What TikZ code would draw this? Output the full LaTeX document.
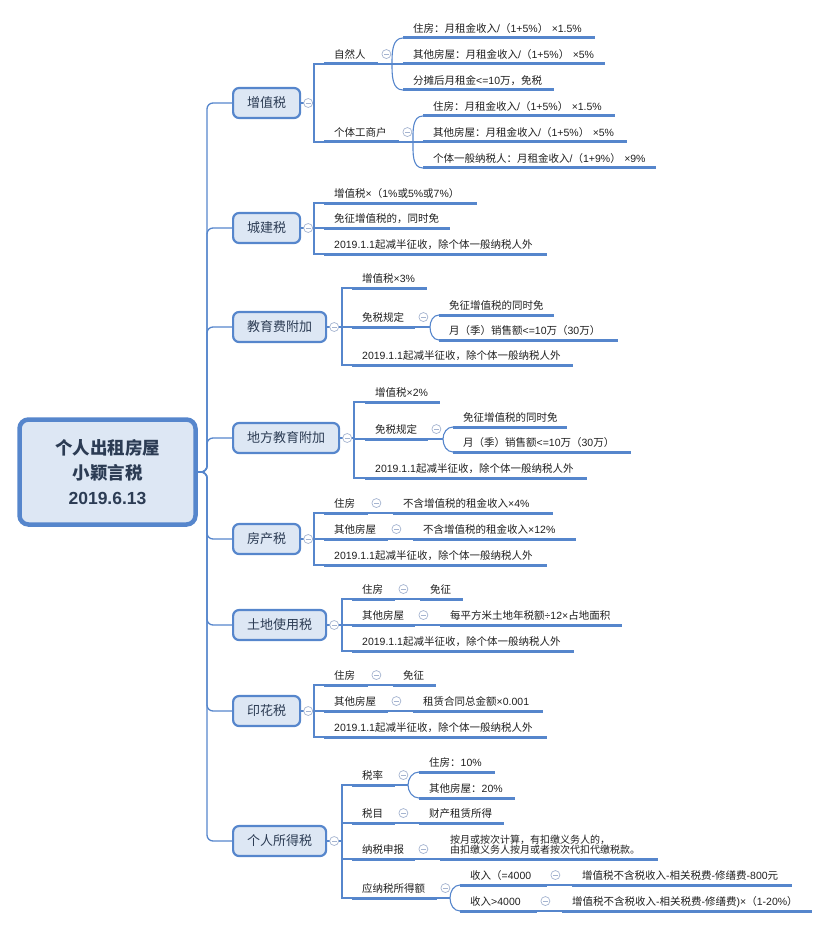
\documentclass[tikz,border=0pt]{standalone}
\usepackage{fontspec}
\setmainfont{Liberation Sans}
\newfontfamily\cjkfont{Noto Sans CJK SC}
\newfontfamily\latinfont{Liberation Sans}

% switch to the CJK font for CJK characters, back to Latin for the rest
\XeTeXinterchartokenstate=1
\newXeTeXintercharclass\cjkclass
\newcount\cjkcode
\def\setcjkrange#1#2{\cjkcode=#1 \loop\XeTeXcharclass\cjkcode=\cjkclass
  \ifnum\cjkcode<#2 \advance\cjkcode by 1 \repeat}
\setcjkrange{"3000}{"303F}
\setcjkrange{"4E00}{"9FFF}
\setcjkrange{"FF00}{"FFEF}
\XeTeXinterchartoks 0 \cjkclass = {\cjkfont}
\XeTeXinterchartoks 4095 \cjkclass = {\cjkfont}
\XeTeXinterchartoks \cjkclass 0 = {\latinfont}
\XeTeXinterchartoks 4095 0 = {\latinfont}
\exhyphenpenalty=10000
\hyphenpenalty=10000

\definecolor{linkblue}{RGB}{86,134,204}
\definecolor{boxfill}{RGB}{221,231,244}
\definecolor{boxtext}{RGB}{44,60,84}
\definecolor{togline}{RGB}{165,180,208}

\tikzset{
  rootbox/.style={draw=linkblue, fill=boxfill, line width=4.5pt, rounded corners=9pt,
    minimum width=176pt, minimum height=105pt, align=center, text=boxtext,
    font=\bfseries\fontsize{17.5}{25}\selectfont},
  topic/.style={draw=linkblue, fill=boxfill, line width=2.2pt, rounded corners=6pt,
    minimum height=30pt, inner xsep=14pt, anchor=west, text=boxtext,
    font=\fontsize{13}{15}\selectfont},
  uline/.style={draw=linkblue, line width=3pt},
  leaf/.style={anchor=south west, inner xsep=10pt, inner ysep=3pt, text height=8pt,
    text depth=2.5pt, align=left, text=black!88, font=\fontsize{10.5}{13}\selectfont,
    append after command={(\tikzlastnode.south west) edge[uline] (\tikzlastnode.south east)}},
  link/.style={draw=linkblue, line width=1.1pt},
  trunk/.style={draw=linkblue, line width=1.3pt, rounded corners=6pt},
  tog/.style={circle, draw=togline, fill=white, line width=0.7pt, minimum size=9pt, inner sep=0pt,
    path picture={\draw[togline, line width=0.7pt]
      ([xshift=-2.3pt]path picture bounding box.center) -- ([xshift=2.3pt]path picture bounding box.center);}}
}

\begin{document}
\begin{tikzpicture}[x=1pt, y=-1pt]
  \useasboundingbox (0,0) rectangle (830,928);

  % root and main topics
  \node[rootbox] (root) at (107.5,472) {个人出租房屋\\小颖言税\\2019.6.13};
  \coordinate (rootj) at (207,472);
  \node[topic] (zz) at (232,103) {增值税};
  \node[topic] (cj) at (232,228) {城建税};
  \node[topic] (jy) at (232,327) {教育费附加};
  \node[topic] (df) at (232,438) {地方教育附加};
  \node[topic] (fc) at (232,539) {房产税};
  \node[topic] (td) at (232,625) {土地使用税};
  \node[topic] (yh) at (232,711) {印花税};
  \node[topic] (gs) at (232,841) {个人所得税};

  % 增值税
  \coordinate (zzb) at (314,103);
  \node[leaf, text width=34pt] (zrr) at (324,64) {自然人};
  \coordinate (zrrf) at (392,64);
  \node[leaf, text width=172pt] (zr1) at (403,38) {住房：月租金收入/（1+5\%）~×1.5\%};
  \node[leaf, text width=182pt] (zr2) at (403,64) {其他房屋：月租金收入/（1+5\%）~×5\%};
  \node[leaf, text width=131pt] (zr3) at (403,90) {分摊后月租金<=10万，免税};
  \node[leaf, text width=55pt] (gtg) at (324,142) {个体工商户};
  \coordinate (gtgf) at (413,142);
  \node[leaf, text width=172pt] (gt1) at (423,116) {住房：月租金收入/（1+5\%）~×1.5\%};
  \node[leaf, text width=184pt] (gt2) at (423,142) {其他房屋：月租金收入/（1+5\%）~×5\%};
  \node[leaf, text width=213pt] (gt3) at (423,168) {个体一般纳税人：月租金收入/（1+9\%）~×9\%};

  % 城建税
  \coordinate (cjb) at (314,228);
  \node[leaf, text width=133pt] (cj1) at (324,203) {增值税×（1\%或5\%或7\%）};
  \node[leaf, text width=106pt] (cj2) at (324,228) {免征增值税的，同时免};
  \node[leaf, text width=203pt] (cj3) at (324,254) {2019.1.1起减半征收，除个体一般纳税人外};

  % 教育费附加
  \coordinate (jyb) at (342,327);
  \node[leaf, text width=55pt] (jy1) at (352,288) {增值税×3\%};
  \node[leaf, text width=43pt] (jy2) at (352,327) {免税规定};
  \coordinate (jy2f) at (430,327);
  \node[leaf, text width=95pt] (jy21) at (439,315) {免征增值税的同时免};
  \node[leaf, text width=159pt] (jy22) at (439,340) {月（季）销售额<=10万（30万）};
  \node[leaf, text width=201pt] (jy3) at (352,365) {2019.1.1起减半征收，除个体一般纳税人外};

  % 地方教育附加
  \coordinate (dfb) at (354,438);
  \node[leaf, text width=55pt] (df1) at (365,402) {增值税×2\%};
  \node[leaf, text width=43pt] (df2) at (365,439) {免税规定};
  \coordinate (df2f) at (443,439);
  \node[leaf, text width=94pt] (df21) at (453,427) {免征增值税的同时免};
  \node[leaf, text width=158pt] (df22) at (453,452) {月（季）销售额<=10万（30万）};
  \node[leaf, text width=202pt] (df3) at (365,478) {2019.1.1起减半征收，除个体一般纳税人外};

  % 房产税
  \coordinate (fcb) at (314,539);
  \node[leaf, text width=24pt] (fc1) at (324,513) {住房};
  \node[leaf, text width=140pt] (fc11) at (393,513) {不含增值税的租金收入×4\%};
  \node[leaf, text width=44pt] (fc2) at (324,539) {其他房屋};
  \node[leaf, text width=143pt] (fc21) at (413,539) {不含增值税的租金收入×12\%};
  \node[leaf, text width=203pt] (fc3) at (324,565) {2019.1.1起减半征收，除个体一般纳税人外};

  % 土地使用税
  \coordinate (tdb) at (342,625);
  \node[leaf, text width=23pt] (td1) at (352,599) {住房};
  \node[leaf, text width=23pt] (td11) at (420,599) {免征};
  \node[leaf, text width=43pt] (td2) at (352,625) {其他房屋};
  \node[leaf, text width=162pt] (td21) at (440,625) {每平方米土地年税额÷12×占地面积};
  \node[leaf, text width=202pt] (td3) at (352,651) {2019.1.1起减半征收，除个体一般纳税人外};

  % 印花税
  \coordinate (yhb) at (314,711);
  \node[leaf, text width=24pt] (yh1) at (324,685) {住房};
  \node[leaf, text width=23pt] (yh11) at (393,685) {免征};
  \node[leaf, text width=44pt] (yh2) at (324,711) {其他房屋};
  \node[leaf, text width=110pt] (yh21) at (413,711) {租赁合同总金额×0.001};
  \node[leaf, text width=203pt] (yh3) at (324,737) {2019.1.1起减半征收，除个体一般纳税人外};

  % 个人所得税
  \coordinate (gsb) at (342,841);
  \node[leaf, text width=23pt] (gs1) at (352,785) {税率};
  \coordinate (gs1f) at (408,785);
  \node[leaf, text width=56pt] (gs11) at (419,772) {住房：10\%};
  \node[leaf, text width=76pt] (gs12) at (419,798) {其他房屋：20\%};
  \node[leaf, text width=23pt] (gs2) at (352,823) {税目};
  \node[leaf, text width=65pt] (gs21) at (419,823) {财产租赁所得};
  \node[leaf, text width=43pt] (gs3) at (352,859) {纳税申报};
  \node[leaf, text width=198pt, text depth=12.5pt, font=\fontsize{10}{10.5}\selectfont] (gs31) at (440,859)
    {按月或按次计算，有扣缴义务人的，\\由扣缴义务人按月或者按次代扣代缴税款。};
  \node[leaf, text width=65pt] (gs4) at (352,898) {应纳税所得额};
  \coordinate (gs4f) at (450,898);
  \node[leaf, text width=67pt] (gs41) at (460,885) {收入（=4000};
  \node[leaf, text width=200pt] (gs411) at (572,885) {增值税不含税收入-相关税费-修缮费-800元};
  \node[leaf, text width=57pt] (gs42) at (460,911) {收入>4000};
  \node[leaf, text width=230pt] (gs421) at (562,911) {增值税不含税收入-相关税费-修缮费)×（1-20\%）};

  % trunk
  \draw[trunk] (root.east) -- (rootj) |- (zz.west);
  \draw[trunk] (root.east) -- (rootj) |- (cj.west);
  \draw[trunk] (root.east) -- (rootj) |- (jy.west);
  \draw[trunk] (root.east) -- (rootj) |- (df.west);
  \draw[trunk] (root.east) -- (rootj) |- (fc.west);
  \draw[trunk] (root.east) -- (rootj) |- (td.west);
  \draw[trunk] (root.east) -- (rootj) |- (yh.west);
  \draw[trunk] (root.east) -- (rootj) |- (gs.west);

  % second level
  \draw[link] (zz.east) -- (zzb) |- (zrr.south west);
  \draw[link] (zzb) |- (gtg.south west);
  \draw[link] (cj.east) -- (cjb) |- (cj1.south west);
  \draw[link] (cjb) -- (cj2.south west);
  \draw[link] (cjb) |- (cj3.south west);
  \draw[link] (jy.east) -- (jyb) |- (jy1.south west);
  \draw[link] (jyb) -- (jy2.south west);
  \draw[link] (jyb) |- (jy3.south west);
  \draw[link] (df.east) -- (dfb) |- (df1.south west);
  \draw[link] (dfb) |- (df2.south west);
  \draw[link] (dfb) |- (df3.south west);
  \draw[link] (fc.east) -- (fcb) |- (fc1.south west);
  \draw[link] (fcb) -- (fc2.south west);
  \draw[link] (fcb) |- (fc3.south west);
  \draw[link] (td.east) -- (tdb) |- (td1.south west);
  \draw[link] (tdb) -- (td2.south west);
  \draw[link] (tdb) |- (td3.south west);
  \draw[link] (yh.east) -- (yhb) |- (yh1.south west);
  \draw[link] (yhb) -- (yh2.south west);
  \draw[link] (yhb) |- (yh3.south west);
  \draw[link] (gs.east) -- (gsb) |- (gs1.south west);
  \draw[link] (gsb) |- (gs2.south west);
  \draw[link] (gsb) |- (gs3.south west);
  \draw[link] (gsb) |- (gs4.south west);

  % third level
  \draw[link] (zrr.south east) -- (zrrf) -- (zr2.south west);
  \draw[link] (zrrf) to[out=90,in=180] (zr1.south west);
  \draw[link] (zrrf) to[out=-90,in=180] (zr3.south west);
  \draw[link] (gtg.south east) -- (gtgf) -- (gt2.south west);
  \draw[link] (gtgf) to[out=90,in=180] (gt1.south west);
  \draw[link] (gtgf) to[out=-90,in=180] (gt3.south west);
  \draw[link] (jy2.south east) -- (jy2f);
  \draw[link] (jy2f) to[out=90,in=180] (jy21.south west);
  \draw[link] (jy2f) to[out=-90,in=180] (jy22.south west);
  \draw[link] (df2.south east) -- (df2f);
  \draw[link] (df2f) to[out=90,in=180] (df21.south west);
  \draw[link] (df2f) to[out=-90,in=180] (df22.south west);
  \draw[link] (fc1.south east) -- (fc11.south west);
  \draw[link] (fc2.south east) -- (fc21.south west);
  \draw[link] (td1.south east) -- (td11.south west);
  \draw[link] (td2.south east) -- (td21.south west);
  \draw[link] (yh1.south east) -- (yh11.south west);
  \draw[link] (yh2.south east) -- (yh21.south west);
  \draw[link] (gs1.south east) -- (gs1f);
  \draw[link] (gs1f) to[out=90,in=180] (gs11.south west);
  \draw[link] (gs1f) to[out=-90,in=180] (gs12.south west);
  \draw[link] (gs2.south east) -- (gs21.south west);
  \draw[link] (gs3.south east) -- (gs31.south west);
  \draw[link] (gs4.south east) -- (gs4f);
  \draw[link] (gs4f) to[out=90,in=180] (gs41.south west);
  \draw[link] (gs4f) to[out=-90,in=180] (gs42.south west);
  \draw[link] (gs41.south east) -- (gs411.south west);
  \draw[link] (gs42.south east) -- (gs421.south west);

  % collapse markers
  \node[tog, xshift=7pt] (zzt) at (zz.east) {};
  \node[tog, xshift=7pt] (cjt) at (cj.east) {};
  \node[tog, xshift=7pt] (jyt) at (jy.east) {};
  \node[tog, xshift=7pt] (dft) at (df.east) {};
  \node[tog, xshift=7pt] (fct) at (fc.east) {};
  \node[tog, xshift=7pt] (tdt) at (td.east) {};
  \node[tog, xshift=7pt] (yht) at (yh.east) {};
  \node[tog, xshift=7pt] (gst) at (gs.east) {};
  \node[tog, xshift=8pt, yshift=1.5pt] (zrrt) at (zrr.east) {};
  \node[tog, xshift=8pt, yshift=1.5pt] (gtgt) at (gtg.east) {};
  \node[tog, xshift=8pt, yshift=1.5pt] (jy2t) at (jy2.east) {};
  \node[tog, xshift=8pt, yshift=1.5pt] (df2t) at (df2.east) {};
  \node[tog, xshift=8pt, yshift=1.5pt] (fc1t) at (fc1.east) {};
  \node[tog, xshift=8pt, yshift=1.5pt] (fc2t) at (fc2.east) {};
  \node[tog, xshift=8pt, yshift=1.5pt] (td1t) at (td1.east) {};
  \node[tog, xshift=8pt, yshift=1.5pt] (td2t) at (td2.east) {};
  \node[tog, xshift=8pt, yshift=1.5pt] (yh1t) at (yh1.east) {};
  \node[tog, xshift=8pt, yshift=1.5pt] (yh2t) at (yh2.east) {};
  \node[tog, xshift=8pt, yshift=1.5pt] (gs1t) at (gs1.east) {};
  \node[tog, xshift=8pt, yshift=1.5pt] (gs2t) at (gs2.east) {};
  \node[tog, xshift=8pt, yshift=1.5pt] (gs3t) at (gs3.east) {};
  \node[tog, xshift=8pt, yshift=1.5pt] (gs4t) at (gs4.east) {};
  \node[tog, xshift=8pt, yshift=1.5pt] (gs41t) at (gs41.east) {};
  \node[tog, xshift=8pt, yshift=1.5pt] (gs42t) at (gs42.east) {};
\end{tikzpicture}
\end{document}
